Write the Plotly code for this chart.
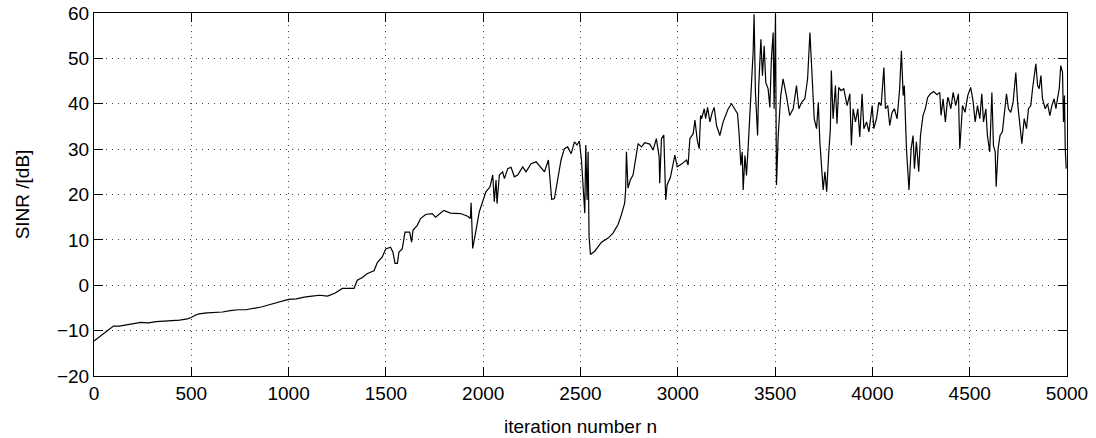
import plotly.graph_objects as go

# Iteration index
iteration_n = [
    0, 20, 40, 60, 80, 100, 130, 160, 200, 240, 280, 320, 360, 400, 440, 480, 500, 520, 540, 580,
    620, 660, 700, 740, 780, 820, 860, 900, 940, 980, 1000, 1040, 1080, 1120, 1160, 1200, 1240,
    1276, 1336, 1353, 1379, 1405, 1439, 1456, 1482, 1499, 1524, 1536, 1547, 1559, 1567, 1584, 1598,
    1622, 1632, 1639, 1661, 1678, 1704, 1738, 1755, 1772, 1798, 1832, 1884,
    1920, 1934, 1938, 1946, 1963, 1980, 2014, 2035, 2049, 2057, 2066, 2071, 2083, 2100, 2109, 2126,
    2143, 2160, 2177, 2203, 2220, 2246, 2272, 2297, 2315, 2335, 2345, 2352, 2366, 2383, 2400, 2417,
    2434, 2452, 2469, 2482, 2494,
    2505, 2513, 2522, 2527, 2534, 2539, 2544, 2551, 2573, 2608, 2642, 2667, 2693, 2710, 2727, 2732,
    2736, 2744, 2756, 2770, 2784, 2796, 2813, 2830, 2856, 2873, 2890, 2904, 2907, 2916, 2928, 2938,
    2945, 2962, 2985, 2997, 3019, 3045, 3053, 3062, 3079, 3088, 3100, 3110, 3117,
    3122, 3136, 3143, 3153, 3165, 3177, 3187, 3199, 3216, 3233, 3259, 3276, 3293, 3307, 3315, 3324,
    3331, 3336, 3345, 3353, 3362, 3370, 3379, 3387, 3392, 3399, 3410, 3416, 3427, 3435, 3444, 3452,
    3464, 3473, 3481, 3490, 3495, 3502, 3507, 3516, 3529, 3541, 3558, 3575, 3593, 3610, 3622, 3636,
    3653, 3667, 3679, 3691, 3701, 3713, 3722, 3730, 3739, 3747, 3756, 3765,
    3776, 3784, 3789, 3798, 3810, 3818, 3827, 3839, 3853, 3870, 3884, 3892, 3901, 3913, 3925, 3935,
    3947, 3956, 3970, 3982, 3999, 4007, 4021, 4033, 4045, 4059, 4067, 4079, 4089, 4101, 4113, 4127,
    4140, 4149, 4158, 4164, 4175, 4183, 4188, 4199, 4209, 4216, 4226, 4238, 4247, 4260, 4272, 4284,
    4298, 4315, 4332, 4346, 4353, 4363, 4375, 4387,
    4391, 4403, 4415, 4428, 4442, 4449, 4463, 4476, 4490, 4505, 4517, 4528, 4540, 4552, 4562, 4571,
    4583, 4591, 4603, 4614, 4622, 4631, 4636, 4646, 4656, 4668, 4680, 4689, 4699, 4711, 4723, 4737,
    4746, 4758, 4768, 4780, 4792, 4802, 4814, 4823, 4833, 4840, 4849, 4857, 4866, 4874, 4888, 4900,
    4912, 4922, 4934, 4943, 4951, 4960, 4968, 4977, 4982, 4987, 4991, 4996,
]

# SINR in dB
sinr_db = [
    -12.3, -11.6, -11.0, -10.2, -9.5, -9.0, -9.0, -8.8, -8.5, -8.2, -8.3, -8.0, -7.9, -7.8, -7.7, -7.4, -7.1, -6.6, -6.3, -6.1,
    -6.0, -5.9, -5.6, -5.4, -5.4, -5.1, -4.8, -4.3, -3.8, -3.3, -3.1, -3.0, -2.6, -2.4, -2.2, -2.4, -1.7,
    -0.7, -0.7, 1.1, 1.7, 2.6, 3.2, 5.0, 6.3, 8.0, 8.4, 7.3, 4.8, 4.8, 7.3, 8.0, 11.7,
    11.7, 9.5, 12.1, 13.2, 14.7, 15.6, 15.8, 15.0, 15.6, 16.5, 15.9, 15.8,
    15.2, 14.7, 18.2, 8.1, 12.1, 16.2, 20.6, 21.7, 24.3, 18.4, 23.2, 18.0, 24.3, 25.0, 23.5, 25.7,
    26.0, 23.9, 24.3, 26.1, 25.0, 26.8, 27.2, 26.0, 25.0, 27.6, 21.7, 18.9, 19.1, 23.2, 27.6, 30.1,
    30.5, 29.0, 31.6, 30.9, 31.8,
    27.6, 21.0, 15.9, 30.9, 18.8, 29.4, 10.8, 6.8, 7.5, 9.5, 10.4, 11.5, 13.4, 15.5, 18.1, 21.0,
    29.4, 21.4, 23.2, 24.3, 27.6, 31.2, 30.5, 31.4, 31.1, 29.8, 32.3, 28.3, 22.5, 32.3, 33.1, 18.8,
    22.1, 23.8, 28.7, 26.1, 26.7, 27.6, 26.5, 32.3, 33.4, 36.4, 32.0, 30.1, 37.4,
    36.7, 38.9, 36.7, 39.2, 36.0, 38.1, 39.2, 35.2, 33.0, 36.0, 38.9, 40.0, 38.9, 37.8, 33.4, 26.4,
    29.4, 21.0, 28.6, 24.2, 30.8, 37.4, 42.5, 51.3, 59.7, 42.5, 33.0, 44.0, 54.2, 46.2, 52.8, 44.7,
    43.3, 39.2, 49.9, 55.7, 38.9, 59.7, 22.1, 33.0, 41.8, 45.5, 41.8, 37.4, 38.9, 44.0, 38.9, 40.3,
    41.1, 45.5, 55.7, 45.5, 36.7, 34.5, 40.3, 31.6, 26.4, 21.0, 25.0, 20.6,
    29.4, 34.5, 47.3, 36.7, 44.0, 35.6, 43.6, 42.9, 43.3, 39.6, 42.2, 30.8, 38.9, 36.0, 38.9, 32.7,
    42.2, 34.5, 36.0, 33.8, 39.6, 34.5, 36.7, 40.3, 39.6, 48.0, 38.9, 39.6, 35.2, 38.1, 38.9, 36.7,
    43.3, 51.7, 41.8, 44.0, 30.1, 22.8, 21.0, 30.1, 33.0, 25.7, 31.6, 25.0, 33.0, 37.4, 38.9, 41.4,
    42.2, 42.7, 42.0, 42.5, 37.4, 41.1, 36.0, 41.4,
    41.1, 38.9, 42.5, 39.6, 42.2, 30.1, 39.6, 38.1, 41.8, 43.6, 40.7, 36.0, 39.6, 36.7, 42.2, 36.0,
    38.9, 33.0, 29.4, 42.5, 30.8, 29.4, 21.7, 30.1, 33.0, 33.8, 38.9, 42.2, 38.9, 38.1, 40.3, 46.9,
    40.3, 36.0, 31.2, 36.7, 34.5, 38.9, 39.6, 43.3, 46.2, 48.8, 44.0, 43.3, 46.2, 41.1, 38.9, 40.0,
    37.4, 39.6, 41.1, 38.9, 41.1, 43.3, 48.4, 46.9, 36.0, 41.8, 30.1, 25.7,
]

x_ticks = [0, 500, 1000, 1500, 2000, 2500, 3000, 3500, 4000, 4500, 5000]
y_ticks = [-20, -10, 0, 10, 20, 30, 40, 50, 60]

fig = go.Figure()
fig.add_trace(go.Scatter(
    x=iteration_n, y=sinr_db, mode="lines",
    line=dict(color="black", width=1.2),
    showlegend=False, hoverinfo="skip",
))

font_family = "Liberation Sans, Arial, Helvetica, sans-serif"
axis_common = dict(
    showline=True, linecolor="black", linewidth=1, mirror="ticks",
    ticks="inside", ticklen=9, tickwidth=1, tickcolor="black",
    showgrid=True, gridcolor="#444444", gridwidth=1, griddash="1px,5px",
    zeroline=False, automargin=False,
    tickfont=dict(family=font_family, size=19, color="black"),
)

fig.update_xaxes(
    range=[0, 5000], tickvals=x_ticks, ticktext=[str(t) for t in x_ticks],
    title=dict(text="iteration number n", font=dict(family=font_family, size=19, color="black"), standoff=16),
    **axis_common,
)
fig.update_yaxes(
    range=[-20, 60], tickvals=y_ticks,
    ticktext=[("\u2212" + str(-t)) if t < 0 else str(t) for t in y_ticks],
    title=dict(text="SINR /[dB]", font=dict(family=font_family, size=19, color="black"), standoff=22),
    **axis_common,
)
fig.update_layout(
    width=1096, height=438,
    margin=dict(l=94, r=29, t=13, b=62),
    paper_bgcolor="white", plot_bgcolor="white",
)
fig.write_html("out.html")
